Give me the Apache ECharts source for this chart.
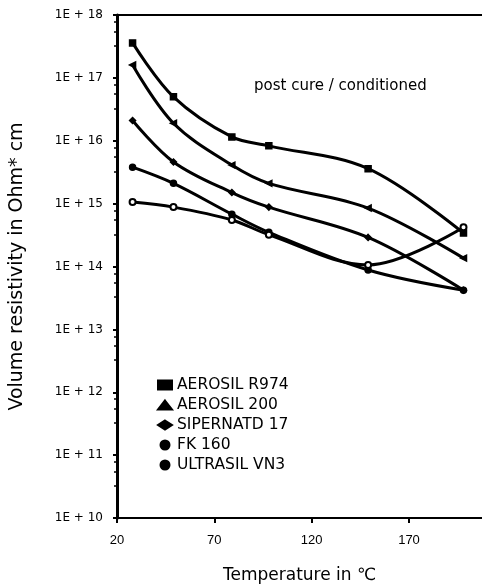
<!DOCTYPE html>
<html>
<head>
<meta charset="utf-8">
<script src="https://cdn.jsdelivr.net/npm/echarts@6/dist/echarts.min.js"></script>
<style>html,body{margin:0;padding:0;background:#fff}#c{width:482px;height:588px}</style>
</head>
<body>
<div id="c"></div>
<script>
// Temperatures (°C) of the measured points
const temps = [28, 49, 79, 98, 149, 198];
// Volume resistivity in Ohm*cm
const aerosilR974 = [3.6e17, 5.0e16, 1.15e16, 8.3e15, 3.6e15, 3.4e14];
const aerosil200 = [1.6e17, 1.9e16, 4.1e15, 2.1e15, 8.5e14, 1.36e14];
const sipernat17 = [2.1e16, 4.6e15, 1.5e15, 8.8e14, 2.9e14, 4.2e13];
const fk160 = [3.8e15, 2.1e15, 6.8e14, 3.5e14, 8.8e13, 4.2e13];
const ultrasilVN3 = [1.06e15, 8.8e14, 5.5e14, 3.2e14, 1.06e14, 4.2e14];
const seriesNames = ['AEROSIL R974', 'AEROSIL 200', 'SIPERNATD 17', 'FK 160', 'ULTRASIL VN3'];
const xTicks = [20, 70, 120, 170];
const yTickExps = [10, 11, 12, 13, 14, 15, 16, 17, 18];

const allVals = [aerosilR974, aerosil200, sipernat17, fk160, ultrasilVN3];
const symbols = ['rect', 'triangle', 'diamond', 'circle', 'emptyCircle'];
const rotations = [0, 90, 0, 0, 0];

const chart = echarts.init(document.getElementById('c'));
const font = '"DejaVu Sans", sans-serif';
chart.setOption({
  animation: false,
  backgroundColor: '#fff',
  title: {
    text: 'post cure / conditioned',
    left: 249, top: 74,
    textStyle: {fontFamily: font, fontSize: 15, fontWeight: 'normal', color: '#000'}
  },
  legend: {
    orient: 'vertical', left: 152, top: 372,
    itemGap: 4, itemWidth: 14, itemHeight: 9,
    data: seriesNames.map((n, i) => ({name: n, icon: symbols[i] === 'emptyCircle' ? 'circle' : symbols[i]})),
    textStyle: {fontFamily: font, fontSize: 15.5, color: '#000'}
  },
  grid: {left: 117, top: 15, right: 0, bottom: 70, outerBoundsMode: 'none', containLabel: false},
  xAxis: [{
    type: 'value', min: 20, max: 207.5, interval: 50,
    name: 'Temperature in ℃', nameLocation: 'middle', nameGap: 49,
    nameTextStyle: {fontFamily: font, fontSize: 17, color: '#000'},
    axisLine: {lineStyle: {color: '#000', width: 2}},
    axisTick: {show: true, length: 5, lineStyle: {color: '#000', width: 2}},
    axisLabel: {fontFamily: '"Liberation Sans", sans-serif', fontSize: 13, color: '#000', margin: 16, showMaxLabel: false,
      formatter: v => xTicks.includes(v) ? String(v) : ''},
    splitLine: {show: false}
  }, {
    type: 'value', position: 'top', min: 20, max: 207.5, interval: 50,
    axisLine: {show: true, onZero: false, lineStyle: {color: '#000', width: 2}},
    axisTick: {show: false}, axisLabel: {show: false}, splitLine: {show: false}
  }],
  yAxis: {
    type: 'log', logBase: 10, min: 1e10, max: 1e18,
    name: 'Volume resistivity in Ohm* cm', nameLocation: 'middle', nameGap: 90,
    nameTextStyle: {fontFamily: font, fontSize: 19, color: '#000'},
    axisLine: {show: true, lineStyle: {color: '#000', width: 3}},
    axisTick: {show: true, length: 4, lineStyle: {color: '#000', width: 2}},
    minorTick: {show: true, splitNumber: 4, length: 3, lineStyle: {color: '#000', width: 1.5}},
    axisLabel: {fontFamily: font, fontSize: 12, color: '#000', margin: 14,
      formatter: v => {
        const e = Math.round(Math.log10(v));
        return yTickExps.includes(e) ? '1E + ' + e : '';
      }},
    splitLine: {show: false}
  },
  series: allVals.map((vals, i) => ({
    name: seriesNames[i],
    type: 'line',
    smooth: 0.35,
    data: temps.map((t, j) => [t, vals[j]]),
    symbol: symbols[i],
    symbolRotate: rotations[i],
    symbolSize: 6,
    showAllSymbol: true,
    lineStyle: {color: '#000', width: 3},
    itemStyle: {color: '#000', borderColor: '#000', borderWidth: 1.5}
  }))
});
</script>
</body>
</html>
